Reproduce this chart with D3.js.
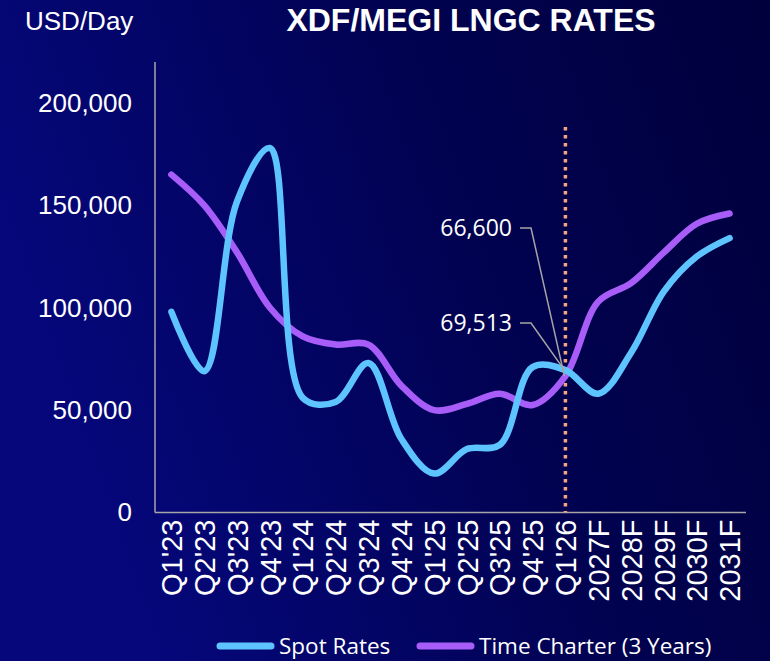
<!DOCTYPE html>
<meta charset="utf-8">
<style>
    body {
        margin: 0;
        background: #020360;
    }

    .title {
        font: bold 32px "Liberation Sans", Arial, sans-serif;
        fill: #ffffff;
    }

    .unit, .axis text {
        font-family: "Liberation Sans", Arial, sans-serif;
        fill: #ffffff;
    }

    .note, .legend text {
        font-family: "Open Sans", sans-serif;
        fill: #ffffff;
    }
</style>

<body>
    <script src="https://d3js.org/d3.v7.min.js"></script>
    <script>
        var categories = ["Q1'23", "Q2'23", "Q3'23", "Q4'23", "Q1'24", "Q2'24", "Q3'24", "Q4'24",
            "Q1'25", "Q2'25", "Q3'25", "Q4'25", "Q1'26", "2027F", "2028F", "2029F", "2030F", "2031F"];
        var spotRates = [98000, 69000, 152000, 178000, 56000, 54000, 73000, 36000,
            19000, 31000, 33000, 71000, 69513, 58000, 78000, 108000, 125000, 134000];
        var timeCharter = [165000, 150000, 127000, 100000, 86000, 82000, 82000, 62000,
            50000, 53000, 58000, 52500, 66600, 103000, 112000, 127000, 141000, 146000];
        var yTicks = [0, 50000, 100000, 150000, 200000];
        var seriesNames = ["Spot Rates", "Time Charter (3 Years)"];
        var markerCategory = "Q1'26";

        var width = 770,
            height = 661;
        var plotLeft = 155,
            plotRight = 746,
            plotTop = 62,
            plotBottom = 512.5;

        var svg = d3.select("body").append("svg")
            .attr("width", width)
            .attr("height", height)
            .style("display", "block");

        // background
        var defs = svg.append("defs");
        var grad = defs.append("linearGradient")
            .attr("id", "bg")
            .attr("x1", "0%").attr("y1", "30%")
            .attr("x2", "100%").attr("y2", "0%");
        grad.append("stop").attr("offset", "0%").attr("stop-color", "#05077a");
        grad.append("stop").attr("offset", "55%").attr("stop-color", "#010250");
        grad.append("stop").attr("offset", "100%").attr("stop-color", "#00003c");
        svg.append("rect")
            .attr("width", width)
            .attr("height", height)
            .style("fill", "url(#bg)");

        var x = d3.scalePoint()
            .domain(categories)
            .range([plotLeft, plotRight])
            .padding(0.5);
        var y = d3.scaleLinear()
            .domain([0, 220000])
            .range([plotBottom, plotTop]);

        var color = d3.scaleOrdinal()
            .domain(seriesNames)
            .range(["#5ec4ff", "#a85cf8"]);

        // axes
        var yAxis = d3.axisLeft(y)
            .tickValues(yTicks)
            .tickSize(0)
            .tickPadding(23)
            .tickFormat(d3.format(","));
        svg.append("g")
            .attr("class", "y axis")
            .attr("transform", "translate(" + plotLeft + ",0)")
            .call(yAxis)
            .call(function(g) {
                g.select(".domain").remove();
                g.selectAll("text").style("font-size", "26px");
            });

        var xAxis = d3.axisBottom(x).tickSize(0).tickPadding(0);
        svg.append("g")
            .attr("class", "x axis")
            .attr("transform", "translate(0," + plotBottom + ")")
            .call(xAxis)
            .call(function(g) {
                g.select(".domain").remove();
                g.selectAll("text")
                    .style("font-size", "29px")
                    .attr("transform", "rotate(-90)")
                    .attr("x", -7)
                    .attr("y", 0)
                    .attr("dy", "0.35em")
                    .style("text-anchor", "end");
            });

        svg.append("line")
            .attr("x1", plotLeft).attr("x2", plotLeft)
            .attr("y1", plotTop).attr("y2", plotBottom)
            .style("stroke", "#a6a6a6")
            .style("stroke-width", 1.5);
        svg.append("line")
            .attr("x1", plotLeft).attr("x2", plotRight)
            .attr("y1", plotBottom).attr("y2", plotBottom)
            .style("stroke", "#a6a6a6")
            .style("stroke-width", 1.5);

        // dotted marker for current quarter
        svg.append("line")
            .attr("x1", x(markerCategory)).attr("x2", x(markerCategory))
            .attr("y1", 127).attr("y2", plotBottom)
            .style("stroke", "#f6a47c")
            .style("stroke-width", 3.5)
            .style("stroke-dasharray", "3.5,4.5");

        var line = d3.line()
            .x(function(d, i) { return x(categories[i]); })
            .y(function(d) { return y(d); })
            .curve(d3.curveCatmullRom.alpha(0.5));

        svg.append("path")
            .datum(timeCharter)
            .attr("d", line)
            .style("fill", "none")
            .style("stroke", color(seriesNames[1]))
            .style("stroke-width", 6.5)
            .style("stroke-linecap", "round");

        svg.append("path")
            .datum(spotRates)
            .attr("d", line)
            .style("fill", "none")
            .style("stroke", color(seriesNames[0]))
            .style("stroke-width", 6.5)
            .style("stroke-linecap", "round");

        // value callouts
        var mi = categories.indexOf(markerCategory);
        var notes = [
            { value: timeCharter[mi], ty: 228 },
            { value: spotRates[mi], ty: 323 }
        ];
        notes.forEach(function(n) {
            svg.append("polyline")
                .attr("points", [[520, n.ty], [531, n.ty], [x(markerCategory) - 1, y(n.value)]].join(" "))
                .style("fill", "none")
                .style("stroke", "#a6a6a6")
                .style("stroke-width", 1.5);
            svg.append("text")
                .attr("class", "note")
                .attr("x", 512)
                .attr("y", n.ty)
                .attr("dy", "0.35em")
                .style("text-anchor", "end")
                .style("font-size", "23px")
                .text(d3.format(",")(n.value));
        });

        // titles
        svg.append("text")
            .attr("class", "unit")
            .attr("x", 25)
            .attr("y", 30)
            .style("font-size", "26px")
            .text("USD/Day");
        svg.append("text")
            .attr("class", "title")
            .attr("x", 471)
            .attr("y", 31)
            .style("text-anchor", "middle")
            .text("XDF/MEGI LNGC RATES");

        // legend
        var legendX = [217, 417];
        var legend = svg.selectAll(".legend")
            .data(seriesNames)
            .enter().append("g")
            .attr("class", "legend")
            .attr("transform", function(d, i) {
                return "translate(" + legendX[i] + ",646)";
            });
        legend.append("line")
            .attr("x1", 3).attr("x2", 54)
            .style("stroke", color)
            .style("stroke-width", 7)
            .style("stroke-linecap", "round");
        legend.append("text")
            .attr("x", 62)
            .attr("dy", "0.35em")
            .style("font-size", "22.5px")
            .text(function(d) { return d; });
    </script>
</body>
